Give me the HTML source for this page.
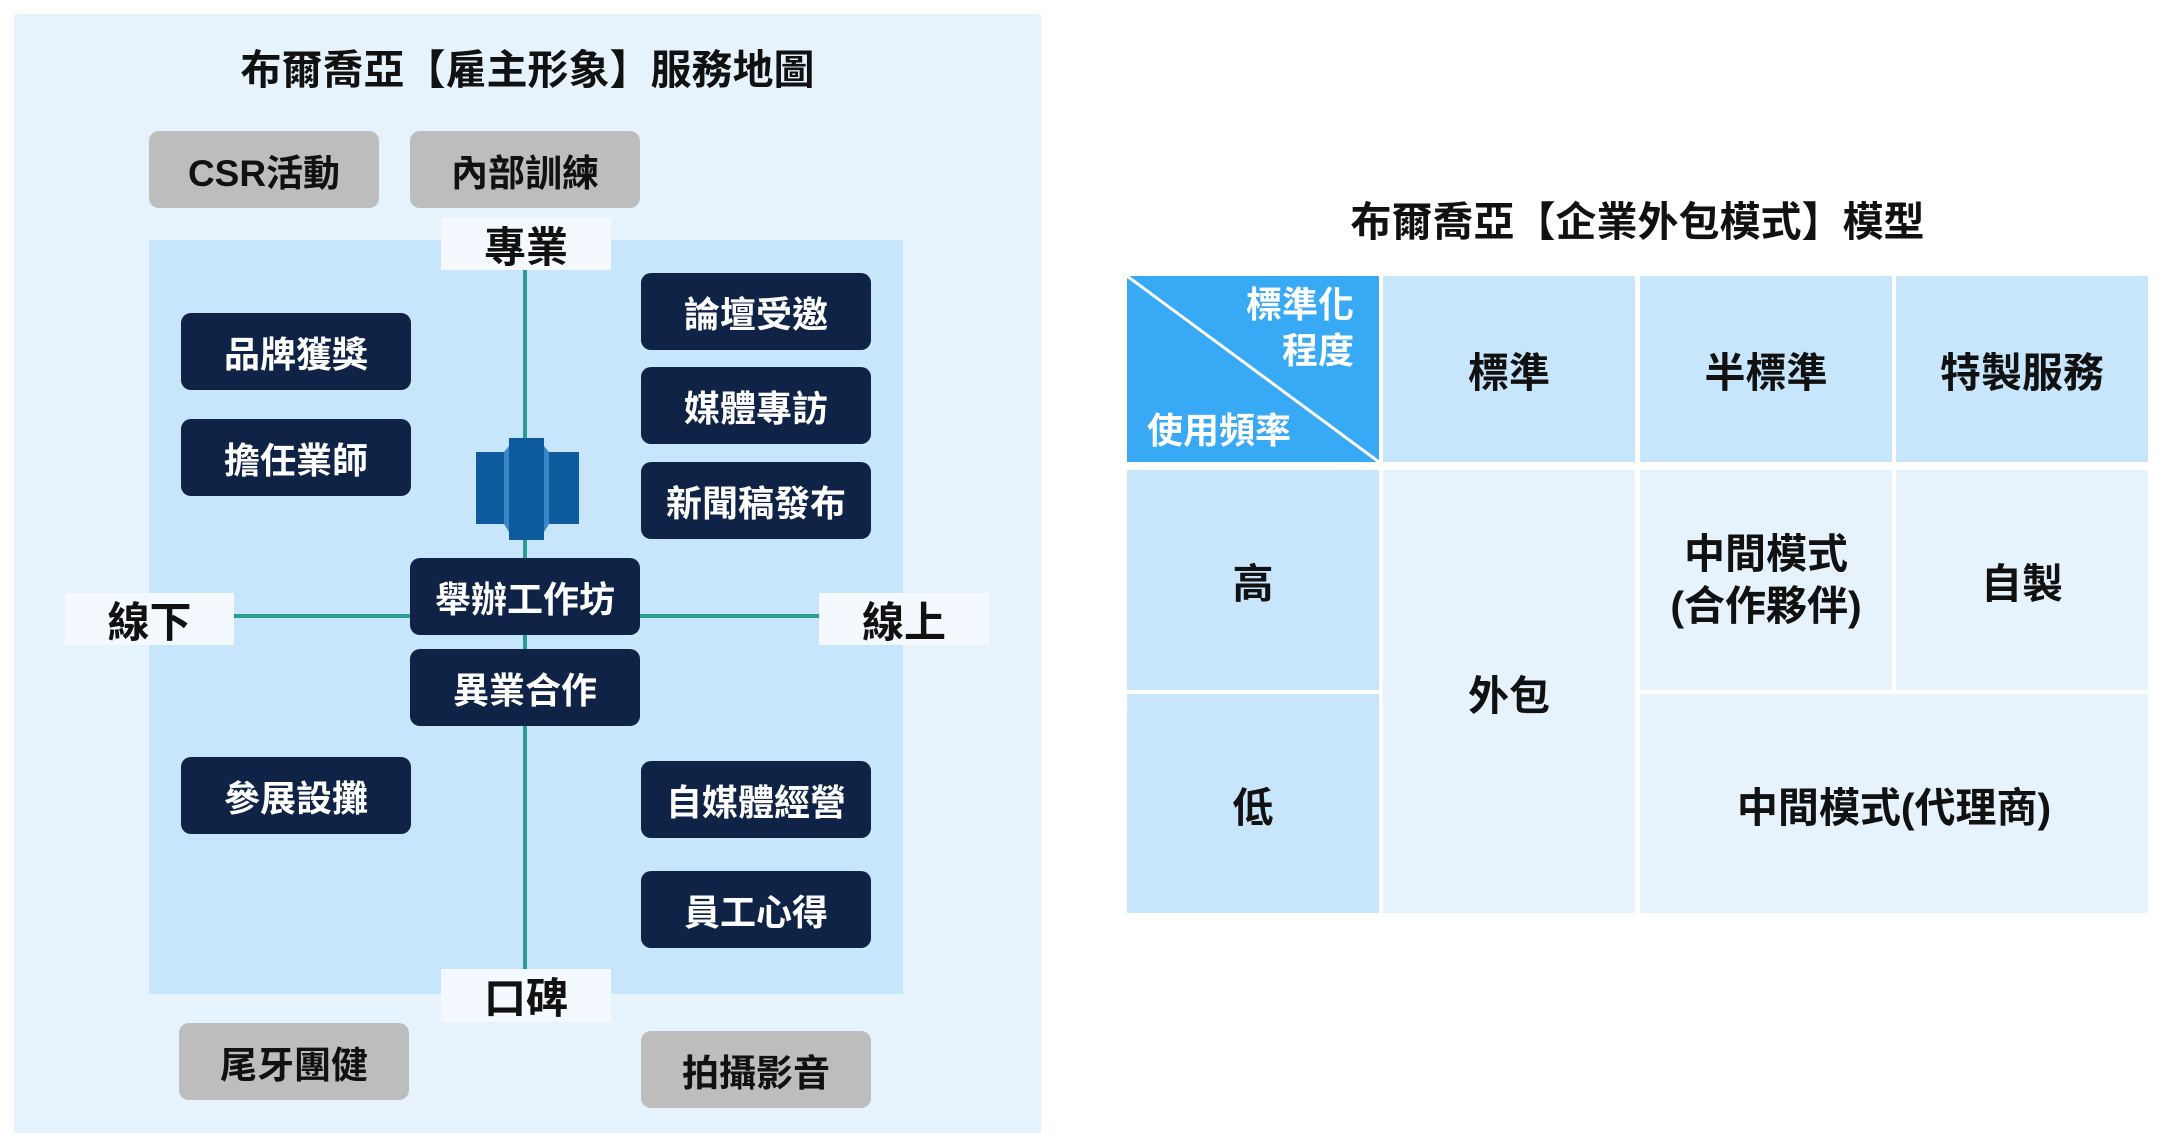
<!DOCTYPE html>
<html><head><meta charset="utf-8"><style>
body{margin:0;width:2162px;height:1147px;background:#fff;position:relative;overflow:hidden;font-family:"Liberation Sans","Noto Sans CJK TC",sans-serif;font-weight:bold;}
div{position:absolute;box-sizing:border-box;}
.c{display:flex;align-items:center;justify-content:center;text-align:center;}
.d{background:#0f2347;color:#fff;border-radius:10px;font-size:36px;width:230px;height:77px;}
.g{background:#bdbdbd;color:#111;border-radius:10px;font-size:37px;width:230px;height:77px;}
.w{background:#f3f9fe;color:#111;font-size:42px;}
.t{font-size:41px;color:#111;}
</style></head><body>
<div style="left:14px;top:14px;width:1027px;height:1119px;background:#e6f3fd"></div>
<div class="c" style="left:14px;top:38px;width:1027px;height:56px;font-size:41px;color:#111">布爾喬亞【雇主形象】服務地圖</div>
<div class="g c" style="left:149px;top:131px">CSR活動</div>
<div class="g c" style="left:410px;top:131px">內部訓練</div>
<div style="left:149px;top:240px;width:754px;height:754px;background:#c8e6fb"></div>
<div style="left:523px;top:269px;width:4px;height:703px;background:#2a9d8f"></div>
<div style="left:234px;top:614px;width:586px;height:4px;background:#2a9d8f"></div>
<div class="w c" style="left:441px;top:218px;width:170px;height:52px">專業</div>
<div class="w c" style="left:441px;top:969px;width:170px;height:53px">口碑</div>
<div class="w c" style="left:65px;top:593px;width:169px;height:52px">線下</div>
<div class="w c" style="left:819px;top:593px;width:170px;height:52px">線上</div>
<svg style="position:absolute;left:476px;top:438px" width="104" height="102"><polygon points="0,14 28,14 28,86 0,86" fill="#0d5a9e"/><polygon points="33,0 68,0 68,102 33,102" fill="#0d5a9e"/><polygon points="73,14 103,14 103,86 73,86" fill="#0d5a9e"/><polygon points="28,14 33,8 33,94 28,86" fill="#3b86c8"/><polygon points="68,8 73,14 73,86 68,94" fill="#3b86c8"/></svg>
<div class="d c" style="left:181px;top:313px">品牌獲獎</div>
<div class="d c" style="left:181px;top:419px">擔任業師</div>
<div class="d c" style="left:181px;top:757px">參展設攤</div>
<div class="d c" style="left:641px;top:273px">論壇受邀</div>
<div class="d c" style="left:641px;top:367px">媒體專訪</div>
<div class="d c" style="left:641px;top:462px">新聞稿發布</div>
<div class="d c" style="left:410px;top:558px">舉辦工作坊</div>
<div class="d c" style="left:410px;top:649px">異業合作</div>
<div class="d c" style="left:641px;top:761px">自媒體經營</div>
<div class="d c" style="left:641px;top:871px">員工心得</div>
<div class="g c" style="left:179px;top:1023px">尾牙團健</div>
<div class="g c" style="left:641px;top:1031px">拍攝影音</div>

<div class="c" style="left:1127px;top:190px;width:1021px;height:56px;font-size:41px;color:#111">布爾喬亞【企業外包模式】模型</div>
<div style="left:1127px;top:276px;width:252px;height:186px;background:#38a9f5"></div>
<svg style="position:absolute;left:1127px;top:276px" width="252" height="186"><line x1="0" y1="0" x2="252" y2="186" stroke="#fff" stroke-width="3"/></svg>
<div style="left:1150px;top:282px;width:204px;text-align:right;color:#fff;font-size:36px;line-height:46px">標準化<br>程度</div>
<div style="left:1147px;top:402px;color:#fff;font-size:36px">使用頻率</div>
<div class="c t" style="left:1383px;top:276px;width:252px;height:186px;background:#c8e6fb">標準</div>
<div class="c t" style="left:1640px;top:276px;width:252px;height:186px;background:#c8e6fb">半標準</div>
<div class="c t" style="left:1896px;top:276px;width:252px;height:186px;background:#c8e6fb">特製服務</div>
<div class="c t" style="left:1127px;top:470px;width:252px;height:220px;background:#c8e6fb">高</div>
<div class="c t" style="left:1127px;top:694px;width:252px;height:219px;background:#c8e6fb">低</div>
<div class="c t" style="left:1383px;top:470px;width:252px;height:443px;background:#e6f3fd">外包</div>
<div class="c t" style="left:1640px;top:470px;width:252px;height:220px;background:#e6f3fd;line-height:52px">中間模式<br>(合作夥伴)</div>
<div class="c t" style="left:1896px;top:470px;width:252px;height:220px;background:#e6f3fd">自製</div>
<div class="c t" style="left:1640px;top:694px;width:508px;height:219px;background:#e6f3fd">中間模式(代理商)</div>
</body></html>
